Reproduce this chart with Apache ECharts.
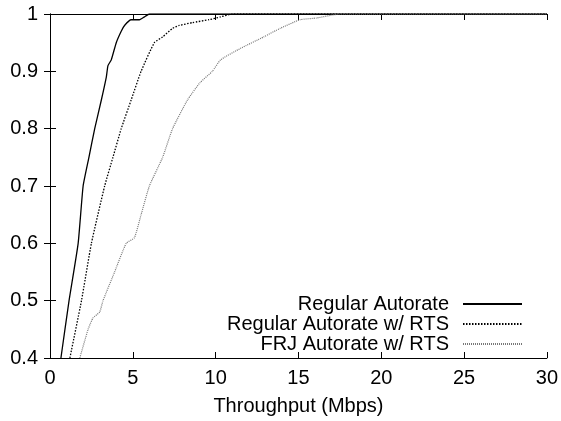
<!DOCTYPE html>
<html>
<head>
<meta charset="utf-8">
<script src="https://cdn.jsdelivr.net/npm/echarts@6/dist/echarts.min.js"></script>
<style>html,body{margin:0;padding:0;background:#fff;}#c{width:561px;height:421px;}</style>
</head>
<body>
<div id="c"></div>
<script>
var seriesNames = ['Regular Autorate', 'Regular Autorate w/ RTS', 'FRJ Autorate w/ RTS'];
var regularX = [0.66, 1.15, 1.7, 2.0, 2.35, 2.7, 3.1, 3.4, 3.5, 3.7, 4.0, 4.3, 4.5, 4.9, 5.4, 5.7, 6.0, 30];
var regularY = [0.40, 0.50, 0.60, 0.70, 0.75, 0.80, 0.85, 0.89, 0.91, 0.92, 0.95, 0.97, 0.98, 0.99, 0.99, 0.995, 1.0, 1.0];
var rtsX = [1.2, 1.9, 2.5, 3.3, 3.8, 4.3, 4.9, 5.5, 6.3, 6.8, 7.4, 7.8, 8.6, 9.6, 10.3, 11.0, 30];
var rtsY = [0.40, 0.50, 0.60, 0.70, 0.75, 0.80, 0.85, 0.90, 0.95, 0.96, 0.975, 0.98, 0.985, 0.99, 0.995, 1.0, 1.0];
var frjX = [1.8, 2.3, 2.6, 3.0, 3.2, 3.9, 4.6, 5.1, 5.5, 6.0, 6.8, 7.4, 8.3, 9.05, 9.8, 10.3, 11.5, 12.9, 13.9, 15.1, 16.1, 17.5, 30];
var frjY = [0.40, 0.45, 0.47, 0.48, 0.50, 0.55, 0.60, 0.61, 0.65, 0.70, 0.75, 0.80, 0.85, 0.88, 0.90, 0.92, 0.94, 0.96, 0.975, 0.99, 0.993, 1.0, 1.0];
var xTicks = [0, 5, 10, 15, 20, 25, 30];
var yTicks = [0.4, 0.5, 0.6, 0.7, 0.8, 0.9, 1];

function pairs(xs, ys) { return xs.map(function (x, i) { return [x, ys[i]]; }); }

var FONT = 'Liberation Sans';
var chart = echarts.init(document.getElementById('c'));
var axisLineStyle = { color: '#000', width: 1 };
chart.setOption({
  animation: false,
  backgroundColor: '#fff',
  textStyle: { fontFamily: FONT },
  grid: { left: 50, right: 14, top: 14, bottom: 63, containLabel: false },
  legend: {
    orient: 'vertical',
    right: 33,
    top: 289,
    align: 'right',
    itemWidth: 59,
    itemHeight: 12,
    itemGap: 0,
    itemStyle: { opacity: 0, borderWidth: 0 },
    textStyle: { fontFamily: FONT, fontSize: 20, color: '#000', lineHeight: 20, padding: [0, 9, 0, 0] },
    data: seriesNames
  },
  xAxis: [{
    type: 'value', min: 0, max: 30, interval: 5, position: 'bottom',
    name: 'Throughput (Mbps)', nameLocation: 'middle', nameGap: 38,
    nameTextStyle: { fontFamily: FONT, fontSize: 20, color: '#000' },
    axisLine: { show: true, lineStyle: axisLineStyle },
    axisTick: { show: true, inside: true, length: 6, lineStyle: axisLineStyle },
    axisLabel: { fontFamily: FONT, fontSize: 20, color: '#000', margin: 10 },
    splitLine: { show: false }
  }, {
    type: 'value', min: 0, max: 30, interval: 5, position: 'top',
    axisLine: { show: true, lineStyle: axisLineStyle },
    axisTick: { show: true, inside: true, length: 6, lineStyle: axisLineStyle },
    axisLabel: { show: false }, splitLine: { show: false }
  }],
  yAxis: [{
    type: 'value', min: 0.4, max: 1, interval: 0.1, position: 'left',
    axisLine: { show: true, lineStyle: axisLineStyle },
    axisTick: { show: true, inside: true, length: 6, lineStyle: axisLineStyle },
    axisLabel: { fontFamily: FONT, fontSize: 20, color: '#000', margin: 12,
      formatter: function (v) { return String(Math.round(v * 10) / 10); } },
    splitLine: { show: false }
  }, {
    type: 'value', min: 0.4, max: 1, interval: 0.1, position: 'right',
    axisLine: { show: true, lineStyle: axisLineStyle },
    axisTick: { show: true, inside: true, length: 6, lineStyle: axisLineStyle },
    axisLabel: { show: false }, splitLine: { show: false }
  }],
  series: [{
    name: seriesNames[0], type: 'line', data: pairs(regularX, regularY),
    showSymbol: false, symbol: 'none', smooth: 0.15,
    lineStyle: { color: '#000', width: 1.3, type: 'solid' }, itemStyle: { color: '#000' }
  }, {
    name: seriesNames[1], type: 'line', data: pairs(rtsX, rtsY),
    showSymbol: false, symbol: 'none', smooth: 0.15,
    lineStyle: { color: '#000', width: 1.3, type: [1.5, 1.5] }, itemStyle: { color: '#000' }
  }, {
    name: seriesNames[2], type: 'line', data: pairs(frjX, frjY),
    showSymbol: false, symbol: 'none', smooth: 0.15,
    lineStyle: { color: '#777', width: 1.2, type: [1, 1] }, itemStyle: { color: '#777' }
  }]
});
</script>
</body>
</html>
